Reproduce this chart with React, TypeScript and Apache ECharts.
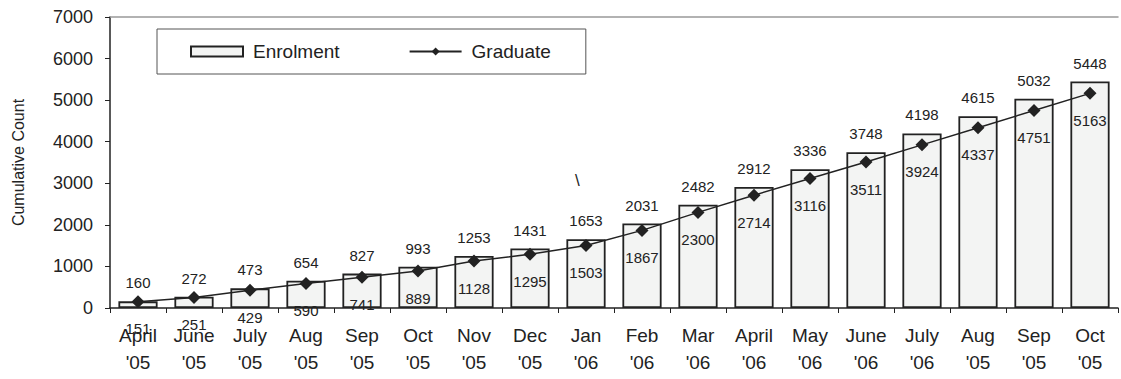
import React, { useEffect, useRef } from "react";
import * as echarts from "echarts";

const months = [
  "April\n'05", "June\n'05", "July\n'05", "Aug\n'05", "Sep\n'05", "Oct\n'05",
  "Nov\n'05", "Dec\n'05", "Jan\n'06", "Feb\n'06", "Mar\n'06", "April\n'06",
  "May\n'06", "June\n'06", "July\n'06", "Aug\n'05", "Sep\n'05", "Oct\n'05",
];
const enrolment = [160, 272, 473, 654, 827, 993, 1253, 1431, 1653, 2031, 2482, 2912, 3336, 3748, 4198, 4615, 5032, 5448];
const graduate = [151, 251, 429, 590, 741, 889, 1128, 1295, 1503, 1867, 2300, 2714, 3116, 3511, 3924, 4337, 4751, 5163];

const FONT = "'Liberation Sans', Arial, sans-serif";
const INK = "#222";

export default function App() {
  const ref = useRef<HTMLDivElement>(null);

  useEffect(() => {
    if (!ref.current) return;
    const chart = echarts.init(ref.current, undefined, { renderer: "svg" });
    chart.setOption({
      animation: false,
      backgroundColor: "#fff",
      textStyle: { fontFamily: FONT, color: INK },
      grid: { left: 110, right: 3, top: 17, bottom: 71 },
      legend: {
        left: 157,
        top: 29,
        orient: "horizontal",
        borderColor: "#555",
        borderWidth: 1,
        padding: [13, 35, 13, 33],
        itemWidth: 52,
        itemHeight: 10,
        itemGap: 69,
        textStyle: { fontFamily: FONT, fontSize: 19, color: INK, lineHeight: 18, padding: [0, 0, 0, 5] },
        data: [
          { name: "Enrolment", icon: "rect" },
          { name: "Graduate" },
        ],
      },
      xAxis: [
        {
          type: "category",
          data: months,
          axisLine: { lineStyle: { color: INK, width: 1.5 } },
          axisTick: { show: true, length: 5, lineStyle: { color: INK } },
          axisLabel: {
            fontFamily: FONT,
            fontSize: 19,
            color: INK,
            lineHeight: 27,
            margin: 14,
            interval: 0,
          },
        },
        {
          type: "category",
          data: months,
          position: "top",
          axisLine: { lineStyle: { color: "#999", width: 1.5 } },
          axisTick: { show: false },
          axisLabel: { show: false },
        },
      ],
      yAxis: {
        type: "value",
        min: 0,
        max: 7000,
        interval: 1000,
        name: "Cumulative Count",
        nameLocation: "middle",
        nameRotate: 90,
        nameGap: 84,
        nameTextStyle: { fontFamily: FONT, fontSize: 16, color: INK },
        axisLine: { show: true, lineStyle: { color: INK, width: 1.5 } },
        axisTick: { show: true, length: 5, lineStyle: { color: INK } },
        splitLine: { show: false },
        axisLabel: {
          fontFamily: FONT,
          fontSize: 18,
          color: INK,
          margin: 17,
          formatter: (v: number) => String(v),
        },
      },
      series: [
        {
          name: "Enrolment",
          type: "bar",
          data: enrolment,
          barWidth: "70%",
          itemStyle: { color: "#f3f4f3", borderColor: INK, borderWidth: 1.8 },
          label: {
            show: true,
            position: "top",
            distance: 11,
            fontFamily: FONT,
            fontSize: 15,
            color: INK,
          },
        },
        {
          name: "Graduate",
          type: "line",
          data: graduate,
          symbol: "diamond",
          symbolSize: [13, 13],
          lineStyle: { color: INK, width: 1.5 },
          itemStyle: { color: INK },
          label: {
            show: true,
            position: "bottom",
            distance: 13,
            fontFamily: FONT,
            fontSize: 15,
            color: INK,
          },
          z: 3,
        },
      ],
      graphic: [
        {
          type: "text",
          left: 575,
          top: 172,
          style: { text: "\\", fontFamily: FONT, fontSize: 17, fill: INK },
        },
      ],
    });
    return () => chart.dispose();
  }, []);

  return (
    <div
      ref={ref}
      style={{ position: "fixed", left: 0, top: 0, width: 1121, height: 379 }}
    />
  );
}
